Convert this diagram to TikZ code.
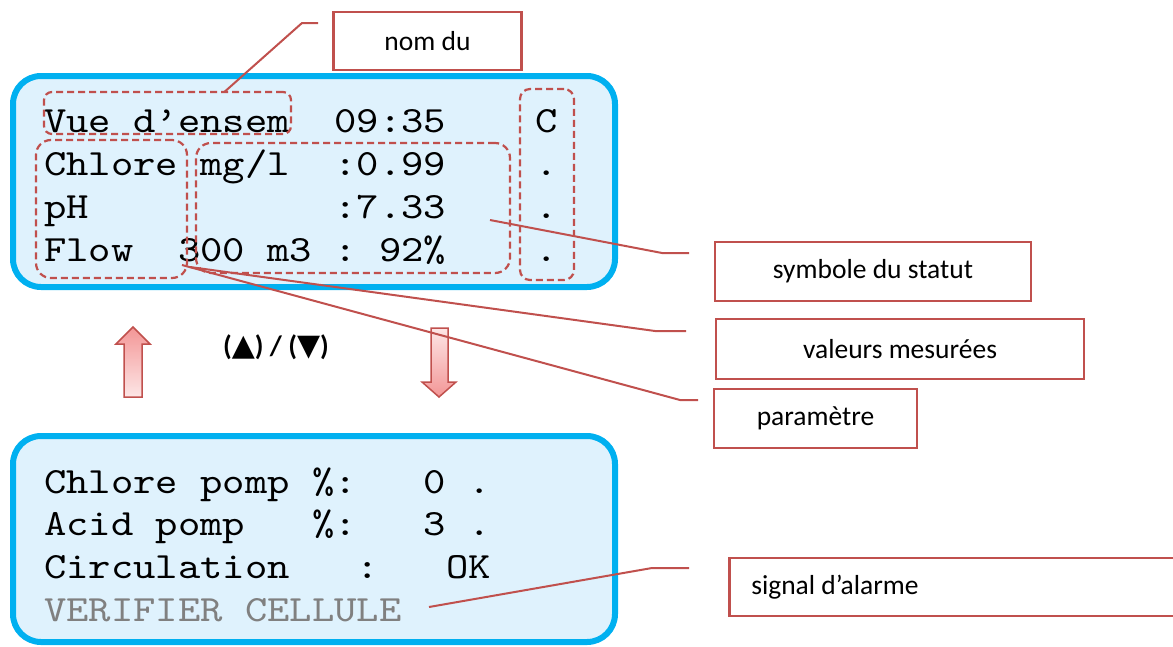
\documentclass[tikz,border=0pt]{standalone}
\usepackage{fontspec}
\setmainfont{Carlito}
\newfontfamily\lcdfont[FakeStretch=1.15]{lmmono10-regular.otf}
\newfontfamily\symfont{DejaVu Sans}
\usetikzlibrary{calc}
\definecolor{lcdblue}{RGB}{0,176,240}
\definecolor{lcdfill}{RGB}{223,242,253}
\definecolor{callred}{RGB}{192,80,77}
\definecolor{arrowpink}{RGB}{243,150,150}
\definecolor{arrowlight}{RGB}{253,230,230}
\definecolor{lcdgray}{RGB}{128,128,128}
\tikzset{
  screen/.style={draw=lcdblue, line width=6pt, fill=lcdfill, rounded corners=28pt, inner sep=0pt},
  lcdline/.style={anchor=base west, inner sep=0pt, font=\lcdfont\fontsize{37}{44}\selectfont},
  zone/.style={draw=callred, line width=2.2pt, dash pattern=on 7pt off 4pt, rounded corners=#1, inner sep=0pt, outer sep=0pt},
  zone/.default=12pt,
  callout/.style={draw=callred, line width=2.5pt, fill=white, inner sep=0pt, font=\fontsize{27.5}{33}\selectfont},
  leader/.style={draw=callred, line width=2pt},
  keyarrow/.style={draw=callred, line width=1.5pt}
}
\begin{document}
\begin{tikzpicture}[x=1pt,y=-1pt]
  \useasboundingbox (0,0) rectangle (1173,646);
  % the two screens
  \node[screen, minimum width=602pt, minimum height=211pt] (topscreen) at (314,181.5) {};
  \node[screen, minimum width=602pt, minimum height=206pt] (lowscreen) at (314,539) {};

  % first screen
  \node[lcdline] (topa) at (44,132) {Vue d’ensem~~09:35~~~~C};
  \node[lcdline] (topb) at (44,175) {Chlore~mg/l~~:0.99~~~~.};
  \node[lcdline] (topc) at (44,218) {pH~~~~~~~~~~~:7.33~~~~.};
  \node[lcdline] (topd) at (44,261) {Flow~~300~m3~:~92\%~~~~.};

  % second screen
  \node[lcdline] (lowa) at (44,493) {Chlore~pomp~\%:~~~0~.};
  \node[lcdline] (lowb) at (44,535) {Acid~pomp~~~\%:~~~3~.};
  \node[lcdline] (lowc) at (44,578) {Circulation~~~:~~~OK};
  \node[lcdline, text=lcdgray] (lowd) at (44,621) {VERIFIER~CELLULE};

  % dashed zones
  \node[zone=8pt, minimum width=247pt, minimum height=42pt] (namezone) at (167.5,113) {};
  \node[zone=15pt, minimum width=151pt, minimum height=138pt] (paramzone) at (111.5,209) {};
  \node[zone=15pt, minimum width=314pt, minimum height=130pt] (valzone) at (353,208) {};
  \node[zone=10pt, minimum width=54pt, minimum height=191pt] (statzone) at (547,184.5) {};

  % up / down keys
  \shade[keyarrow, top color=arrowpink, bottom color=arrowlight]
    (124,397) -- (124,344) -- (116,344) -- (133,327) -- (150,344) -- (142,344) -- (142,397) -- cycle;
  \shade[keyarrow, top color=arrowlight, bottom color=arrowpink]
    (431,328) -- (448,328) -- (448,382) -- (456,382) -- (439,397) -- (422,382) -- (431,382) -- cycle;
  \node[font=\bfseries\fontsize{28}{33}\selectfont] (navkeys) at (276,347)
    {({\symfont\fontsize{30}{33}\selectfont ▲}) / ({\symfont\fontsize{30}{33}\selectfont ▼})};

  % labels
  \node[callout, minimum width=188pt, minimum height=58pt] (nomlbl) at (427.5,41) {nom du};
  \node[callout, minimum width=316pt, minimum height=59pt] (statlbl) at (873,271.5) {symbole du statut};
  \node[callout, minimum width=368pt, minimum height=60pt] (vallbl) at (900,349) {valeurs mesurées};
  \node[callout, minimum width=203pt, minimum height=59pt] (paramlbl) at (815.5,418.5) {paramètre};
  \node[callout, anchor=west, minimum height=58pt, text width=408pt, inner xsep=22pt, align=flush left] (alarmlbl) at (728,587) {signal d’alarme};

  % leader lines
  \coordinate (nomend) at (318,23);
  \coordinate (nomelb) at (302,23);
  \coordinate (statend) at (689,253);
  \coordinate (statelb) at (662,253);
  \coordinate (stattip) at (490,220);
  \coordinate (valend) at (686,331);
  \coordinate (valelb) at (655,331);
  \coordinate (valtip) at (190,267);
  \coordinate (paramend) at (698,400);
  \coordinate (paramelb) at (680,400);
  \coordinate (paramtip) at (182,265);
  \coordinate (alarmend) at (689,568);
  \coordinate (alarmelb) at (652,568);
  \coordinate (alarmtip) at (429,607);
  \draw[leader] (nomend) -- (nomelb) -- ($(namezone.north west)!0.73!(namezone.north east)$);
  \draw[leader] (statend) -- (statelb) -- (stattip);
  \draw[leader] (valend) -- (valelb) -- (valtip);
  \draw[leader] (paramend) -- (paramelb) -- (paramtip);
  \draw[leader] (alarmend) -- (alarmelb) -- (alarmtip);
\end{tikzpicture}
\end{document}
